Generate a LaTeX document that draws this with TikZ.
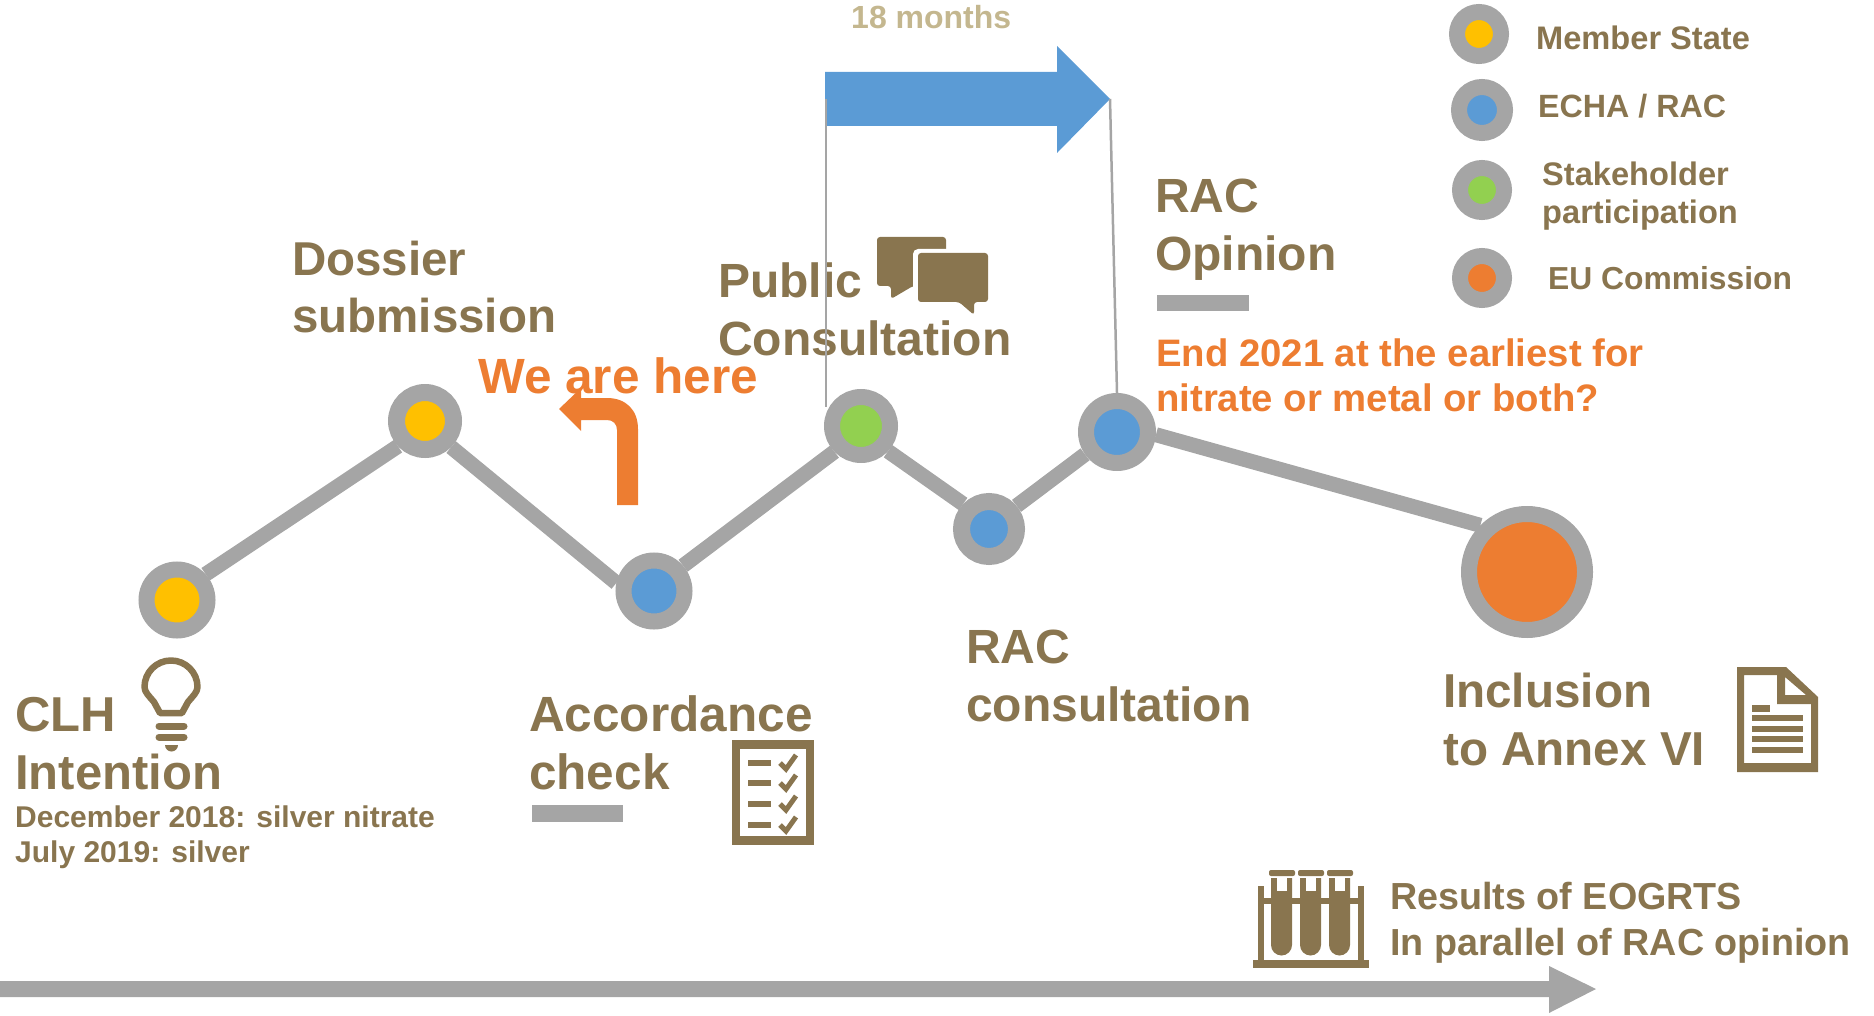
\documentclass[tikz,border=0pt]{standalone}
\usepackage{fontspec}
\setmainfont{Liberation Sans}
\definecolor{txt}{HTML}{89754F}
\definecolor{tan}{HTML}{C4B78F}
\definecolor{gry}{HTML}{A5A5A5}
\definecolor{yel}{HTML}{FFC000}
\definecolor{grn}{HTML}{92D050}
\definecolor{blu}{HTML}{5B9BD5}
\definecolor{org}{HTML}{ED7D31}
\tikzset{
  dot/.style n args={3}{circle,inner sep=0pt,minimum size=#1*2pt+#2*1pt,draw=gry,fill=#3,line width=#2pt,outer sep=#2/2*1pt},
  lbl/.style={anchor=base west,inner sep=0pt,align=left,text=txt,font=\bfseries\fontsize{#1}{58}\selectfont},
  leg/.style={anchor=base west,inner sep=0pt,align=left,text=txt,font=\bfseries\fontsize{#1}{38}\selectfont},
  sub/.style={anchor=base west,inner sep=0pt,align=left,text=txt,font=\bfseries\fontsize{30}{35}\selectfont},
  res/.style={anchor=base west,inner sep=0pt,align=left,text=txt,font=\bfseries\fontsize{37.7}{46}\selectfont},
  conn/.style={draw=gry,line width=15pt},
  thin/.style={draw=gry,line width=2.5pt},
  iconl/.style={draw=txt,line width=6.5pt},
}
\begin{document}
\begin{tikzpicture}[x=1pt,y=-1pt]
\useasboundingbox (0,0) rectangle (1874,1016);
% coordinates for line ends
\coordinate (axisL) at (0,989);
% process connectors
\node[dot={22.5}{16}{yel}] (n1) at (177,600) {};
\node[dot={20}{17}{yel}] (n2) at (425,421) {};
\node[dot={22.5}{16}{blu}] (n3) at (654,591) {};
\node[dot={21}{16}{grn}] (n4) at (861,426) {};
\node[dot={19}{17}{blu}] (n5) at (989,529) {};
\node[dot={23}{16}{blu}] (n6) at (1117,432) {};
\node[dot={50}{16}{org}] (n7) at (1527,572) {};
\draw[conn] (n1.42) -- (n2.-137);
\draw[conn] (n2.-45) -- (n3.168);
\draw[conn] (n3.41) -- (n4.-136);
\draw[conn] (n4.-43) -- (n5.136);
\draw[conn] (n5.40) -- (n6.-145);
\draw[conn] (n6.-4) -- (n7.north west);
% axis
\fill[gry] (axisL) ++(0,-8) -- (1549,981) -- (1549,966) -- (1596,989) -- (1549,1013) -- (1549,997) -- (0,997) -- cycle;
% blue arrow
\fill[blu] (825,72) -- (1057,72) -- (1057,46) -- (1110,99) -- (1057,153) -- (1057,126) -- (825,126) -- cycle;
\coordinate (armL) at (826,99);
\coordinate (armLb) at (826,407);
\coordinate (armR) at (1110,99);
% orange bent arrow
\fill[org] (559,409) -- (581,388) -- (581,398) -- (607,398) .. controls (626,398) and (638,410) .. (638,429) -- (638,505) -- (617,505) -- (617,430) .. controls (617,424) and (613,420) .. (607,420) -- (581,420) -- (581,431) -- cycle;
% labels
\node[lbl=47.5] (dossier) at (292,333) {Dossier\\submission};
\node[lbl=49] (clh) at (15,789) {CLH\\Intention};
\node[sub] (dates) at (15,862) {December 2018: silver nitrate\\July 2019: silver};
\node[lbl=49.5] (acc) at (529,789) {Accordance\\check};
\node[lbl=48] (pub) at (718,355) {Public\\Consultation};
\node[lbl=48] (op) at (1155,271) {RAC\\Opinion};
\node[lbl=48] (cons) at (966,721) {RAC\\consultation};
\node[lbl=47.6] (incl) at (1443,765) {Inclusion\\to Annex VI};
\node[anchor=base west,inner sep=0pt,text=org,font=\bfseries\fontsize{49.5}{58}\selectfont] (here) at (478,393) {We are here};
\node[anchor=base west,inner sep=0pt,align=left,text=org,font=\bfseries\fontsize{38.3}{45}\selectfont] (end) at (1156,411) {End 2021 at the earliest for\\nitrate or metal or both?};
\node[anchor=base west,inner sep=0pt,text=tan,font=\bfseries\fontsize{32}{38}\selectfont] (mon) at (851,29) {18 months};
\node[res] (resl) at (1390,955) {Results of EOGRTS\\In parallel of RAC opinion};
% gray bars
\fill[gry] (532,805) rectangle (623,822);
\fill[gry] (1157,295) rectangle (1249,311);
% thin arms (above text)
\draw[thin] (armL) -- (armLb);
\draw[thin] (armR) -- (n6.north);
% legend
\node[dot={14}{16}{yel}] (l1) at (1479,34) {};
\node[dot={15}{16}{blu}] (l2) at (1482,110) {};
\node[dot={14}{16}{grn}] (l3) at (1482,190) {};
\node[dot={14}{16}{org}] (l4) at (1482,278) {};
\node[leg=32.6] (t1) at (1536,50) {Member State};
\node[leg=32.2] (t2) at (1538,118) {ECHA / RAC};
\node[leg=32.6] (t3) at (1542,224) {Stakeholder\\participation};
\node[leg=31.8] (t4) at (1548,290) {EU Commission};
% bulb icon
\draw[iconl,line join=round] (160,713) -- (154,702) .. controls (149,696) and (144.5,692) .. (144.5,687) arc[start angle=180,end angle=360,radius=26.5] .. controls (197.5,692) and (193,696) .. (188,702) -- (182,713) -- cycle;
\draw[txt,line width=7pt,line cap=round] (159,726) -- (184,726);
\draw[txt,line width=7pt,line cap=round] (159,737) -- (184,737);
\fill[txt] (165,745) -- (178,745) arc[start angle=0,end angle=180,radius=6.5] -- cycle;
% checklist icon
\draw[txt,line width=8.5pt] (736,744.5) rectangle (810,840.5);
\foreach \yy in {763,783,804,825}{
  \draw[txt,line width=6pt] (748,\yy) -- (771,\yy);
  \draw[txt,line width=5pt] (780,\yy) -- (786,\yy+6) -- (796,\yy-8);
}
% speech bubbles
\fill[txt,rounded corners=3pt] (877,237) -- (946,237) -- (946,286) -- (913,286) -- (891,299) -- (891,286) -- (877,286) -- cycle;
\fill[white,rounded corners=5pt] (913,249) rectangle (992,306);
\fill[txt,rounded corners=3pt] (918,253) -- (988,253) -- (988,302) -- (974,302) -- (974,315) -- (959,302) -- (918,302) -- cycle;
% document icon
\fill[txt,even odd rule] (1737,667) -- (1786,667) -- (1818,697) -- (1818,772) -- (1737,772) -- cycle
  (1744,675) -- (1744,763) -- (1811,763) -- (1811,704) -- (1777,704) -- (1777,675) -- cycle
  (1785,677) -- (1785,695) -- (1806,695) -- cycle;
\fill[txt] (1752,705) rectangle (1770,712);
\foreach \yy in {715,726,736,747}{\fill[txt] (1752,\yy) rectangle (1803,\yy+6);}
% test tube icon
\fill[txt] (1253,960) rectangle (1369,968);
\fill[txt] (1258,886) rectangle (1264,960);
\fill[txt] (1358,886) rectangle (1364,960);
\fill[txt] (1264,898) rectangle (1358,904);
\foreach \xx in {1271,1300,1329}{
  \fill[txt] (\xx,878) -- (\xx+21,878) -- (\xx+21,945) arc[start angle=0,end angle=180,radius=10.5] -- cycle;
  \fill[white] (\xx+6,876) rectangle (\xx+16,891);
  \fill[txt,rounded corners=2pt] (\xx-2,870) rectangle (\xx+24,876);
}
\end{tikzpicture}
\end{document}
